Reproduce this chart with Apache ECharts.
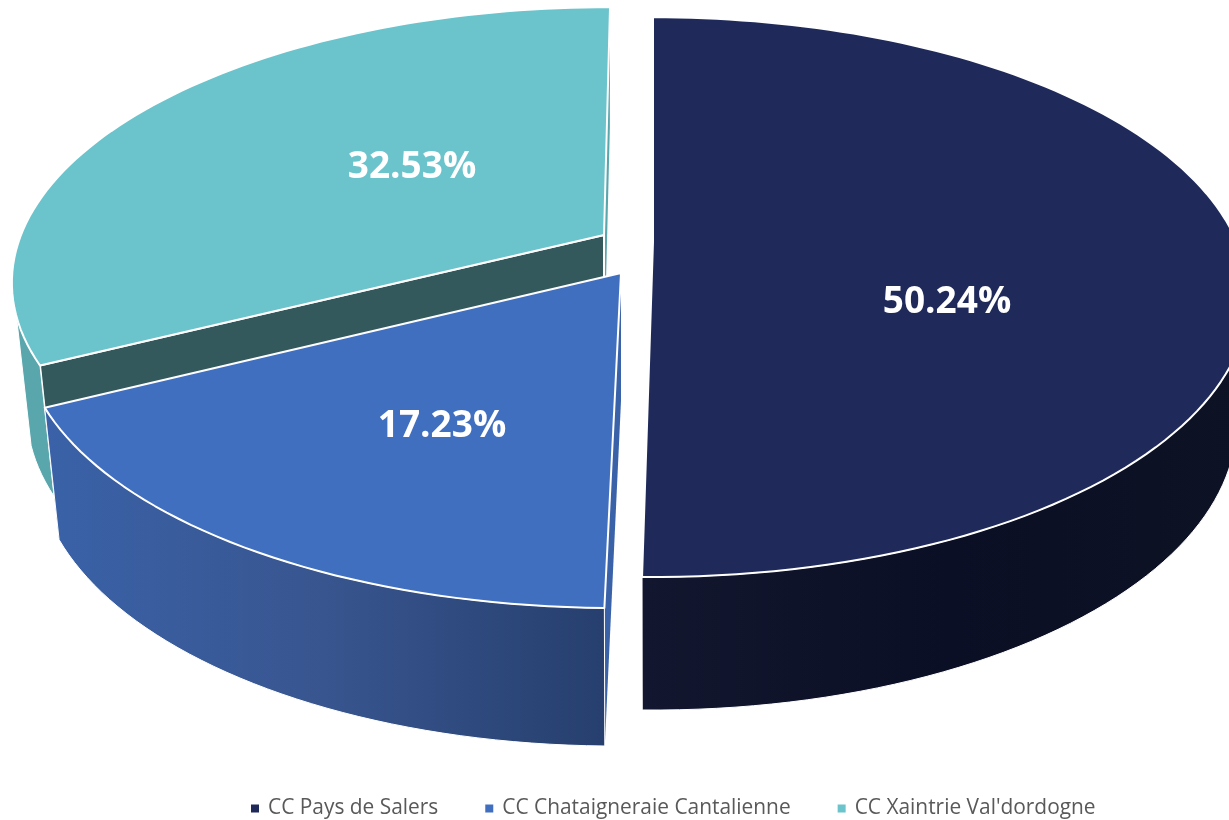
<!DOCTYPE html>
<html>
<head>
<meta charset="utf-8" />
<title>Pie</title>
<style>
  html, body { margin: 0; padding: 0; background: #fff; }
  #main { width: 1229px; height: 820px; }
</style>
</head>
<body>
<div id="main"></div>
<script src="https://cdn.jsdelivr.net/npm/echarts@6/dist/echarts.min.js"></script>
<script>
const categories = ["CC Pays de Salers", "CC Chataigneraie Cantalienne", "CC Xaintrie Val'dordogne"];
const shares = [50.24, 17.23, 32.53];
const colors = ["#1f2a5a", "#416fc0", "#6bc3cc"];

// fake 3d: each slice is a circle pushed through a small perspective
const shrinkY = 1.03;
const sliceLayout = [
  { ax: 653, ay: 242, r: 584, lean: 0, persp: 0.197, ySize: 269, depth: 123, shrinkX: 0.98, wallFrom: 100, wallTo: 180.864,
    label: [947, 302], wall: [["#12172f", 0], ["#0b0f25", 0.5], ["#0e1224", 1]], cutFrom: "#1f2a5a", cutTo: "#12172f" },
  { ax: 621, ay: 273, r: 587, lean: -4.5, persp: 0.197, ySize: 269, depth: 128, shrinkX: 0.975, wallFrom: 180.864, wallTo: 242.892,
    label: [442, 426], wall: [["#3a62a8", 0], ["#38558f", 0.5], ["#263f6e", 1]], cutFrom: "#26406e", cutTo: "#3a62a8", sliver: true },
  { ax: 604, ay: 235, r: 583, lean: -7, persp: 0.163, ySize: 265, depth: 127, shrinkX: 0.975, wallFrom: 242.892, wallTo: 253,
    label: [412, 167], wall: [["#5aa6ad", 0], ["#5aa6ad", 1]], cutFrom: "#33595d", cutTo: "#5aa6ad", darkCut: true },
];

function rimPoint(lay, deg, isBottom) {
  const t = (deg * Math.PI) / 180;
  const u = Math.sin(t);
  const v = -Math.cos(t);
  const s = 1 / (1 - lay.persp * v);
  return [
    lay.ax + (lay.r * u + lay.lean * v) * s * (isBottom ? lay.shrinkX : 1),
    lay.ay + lay.ySize * v * s * (isBottom ? shrinkY : 1) + (isBottom ? lay.depth : 0),
  ];
}

function arc(lay, from, to, isBottom) {
  const pts = [];
  const n = Math.max(2, Math.ceil(Math.abs(to - from) / 1.5));
  for (let i = 0; i <= n; i++) {
    pts.push(rimPoint(lay, from + ((to - from) * i) / n, isBottom));
  }
  return pts;
}

function makeRenderItem(idx) {
  return function (params, api) {
    const lay = sliceLayout[idx];
    const from = api.value(0) * 3.6;
    const to = (api.value(0) + api.value(1)) * 3.6;
    const top = [[lay.ax, lay.ay]].concat(arc(lay, from, to, false));
    const outer = arc(lay, lay.wallFrom, lay.wallTo, false).concat(arc(lay, lay.wallTo, lay.wallFrom, true));
    const apexLow = [lay.ax, lay.ay + lay.depth];
    const cut = (deg, fill, lineWidth) => ({
      type: "polygon",
      shape: { points: [[lay.ax, lay.ay], rimPoint(lay, deg, false), rimPoint(lay, deg, true), apexLow] },
      style: { fill: fill, stroke: lineWidth ? "#fff" : null, lineWidth: lineWidth },
    });
    return {
      type: "group",
      children: [
        cut(to, lay.cutTo, 0),
        cut(from, lay.sliver ? lay.cutTo : lay.cutFrom, lay.darkCut ? 2 : 0),
        {
          type: "polygon",
          shape: { points: outer },
          style: {
            fill: new echarts.graphic.LinearGradient(
              0, 0, 1, 0,
              lay.wall.map((w) => ({ offset: w[1], color: w[0] }))
            ),
            stroke: "#fff",
            lineWidth: 1,
          },
        },
        {
          type: "polygon",
          shape: { points: top },
          style: { fill: colors[idx], stroke: "#fff", lineWidth: 2, lineJoin: "round" },
        },
        {
          type: "text",
          style: {
            text: api.value(1).toFixed(2) + "%",
            x: lay.label[0],
            y: lay.label[1],
            fill: "#fff",
            font: 'bold 37px "Open Sans"',
            align: "center",
            verticalAlign: "middle",
          },
        },
      ],
    };
  };
}

let running = 0;
const starts = shares.map((s) => {
  const v = running;
  running += s;
  return v;
});

const series = categories.map((name, i) => ({
  name: name,
  type: "custom",
  coordinateSystem: "none",
  clip: false,
  z: i === 0 ? 4 : i === 1 ? 3 : 2,
  itemStyle: { color: colors[i] },
  renderItem: makeRenderItem(i),
  data: [[starts[i], shares[i]]],
}));

const chart = echarts.init(document.getElementById("main"));
chart.setOption({
  animation: false,
  legend: {
    data: categories,
    left: 251,
    top: 798,
    padding: 0,
    icon: "rect",
    itemWidth: 8,
    itemHeight: 8,
    itemGap: 47,
    selectedMode: false,
    textStyle: {
      fontFamily: "Open Sans",
      fontSize: 20.9,
      color: "#595959",
      padding: [0, 0, 0, 4],
    },
  },
  series: series,
});
</script>
</body>
</html>
